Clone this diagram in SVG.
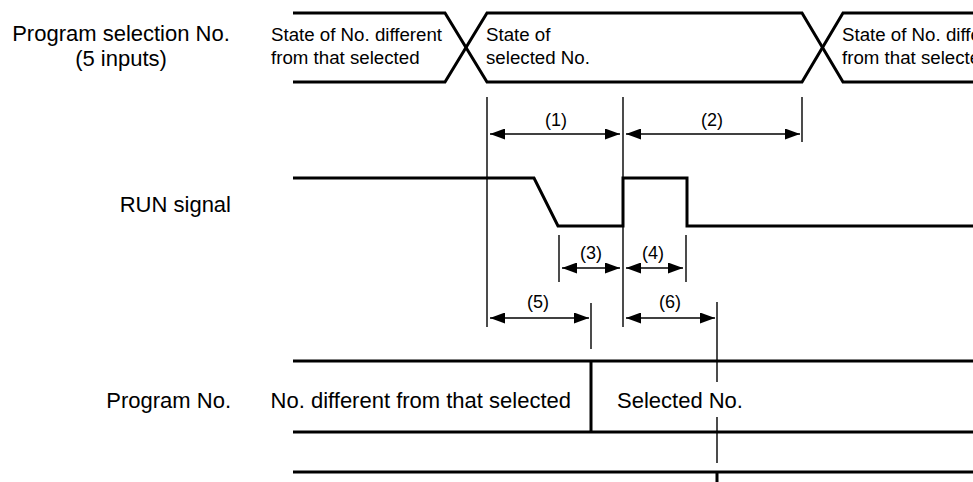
<svg xmlns="http://www.w3.org/2000/svg" width="973" height="482" viewBox="0 0 973 482">
<style>
text{font-family:"Liberation Sans",Arial,sans-serif;fill:#000}
.lbl{font-size:22px}
.bus{font-size:18.7px}
.dim{font-size:18px;text-anchor:middle}
.sig{fill:none;stroke:#000;stroke-width:3}
.thin{fill:none;stroke:#000;stroke-width:1.4}
.arr{fill:none;stroke:#000;stroke-width:1.5;marker-start:url(#ah);marker-end:url(#ah)}
</style>
<defs>
<marker id="ah" viewBox="0 0 15 11" refX="15" refY="5.5" markerWidth="15" markerHeight="11" markerUnits="userSpaceOnUse" orient="auto-start-reverse">
<path d="M0,0 L15,5.5 L0,11 Z" fill="#000"/>
</marker>
</defs>
<g id="labels">
<text class="lbl" x="121" y="41" text-anchor="middle">Program selection No.</text>
<text class="lbl" x="121" y="66" text-anchor="middle">(5 inputs)</text>
<text class="lbl" x="231" y="212" text-anchor="end">RUN signal</text>
<text class="lbl" x="231" y="408" text-anchor="end">Program No.</text>
</g>
<g id="bus">
<path class="sig" d="M293,13 H445 L487,82 H802 L843,13 H973"/>
<path class="sig" d="M293,82 H445 L487,13 H802 L843,82 H973"/>
<text class="bus" x="271" y="41">State of No. different</text>
<text class="bus" x="271" y="64">from that selected</text>
<text class="bus" x="486" y="41">State of</text>
<text class="bus" x="486" y="64">selected No.</text>
<text class="bus" x="842" y="41">State of No. different</text>
<text class="bus" x="842" y="64">from that selected</text>
</g>
<g id="run">
<path class="sig" d="M293,178 H534 L558,226 H623 V178 H687 V226 H973"/>
</g>
<g id="program">
<path class="sig" d="M293,361 H973 M293,432 H973 M293,472 H973 M591,361 V432 M717,472 V482"/>
<text class="lbl" x="571" y="408" text-anchor="end">No. different from that selected</text>
<text class="lbl" x="617" y="408">Selected No.</text>
</g>
<g id="connectors">
<path class="thin" d="M487,97 V327 M623,97 V327 M802,97 V142 M559,235 V282 M686,235 V282 M591,303 V349 M717,302 V382 M717,417 V463"/>
<path class="arr" d="M490,134 H620"/>
<path class="arr" d="M626,134 H800"/>
<path class="arr" d="M562,268 H620"/>
<path class="arr" d="M626,268 H683"/>
<path class="arr" d="M490,318 H589"/>
<path class="arr" d="M626,318 H715"/>
<text class="dim" x="556" y="126">(1)</text>
<text class="dim" x="712" y="126">(2)</text>
<text class="dim" x="591" y="259">(3)</text>
<text class="dim" x="653" y="259">(4)</text>
<text class="dim" x="538" y="308">(5)</text>
<text class="dim" x="670" y="308">(6)</text>
</g>
</svg>
